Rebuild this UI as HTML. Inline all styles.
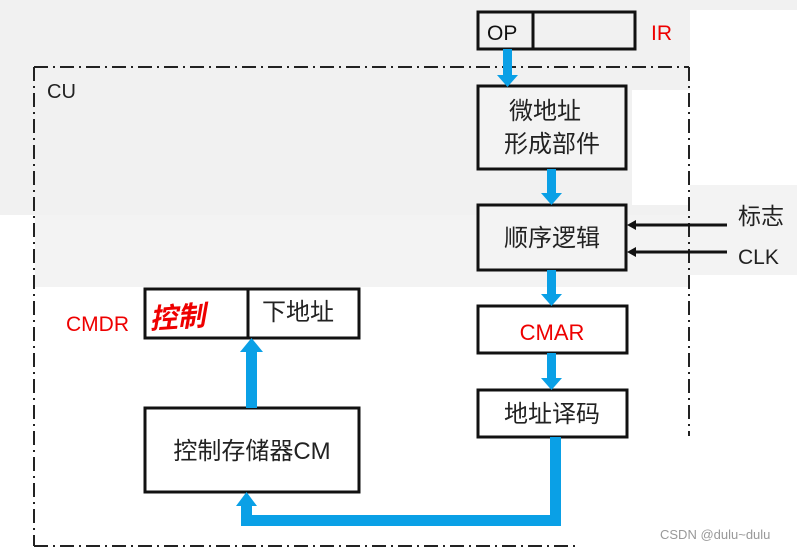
<!DOCTYPE html>
<html><head><meta charset="utf-8"><style>
html,body{margin:0;padding:0;background:#fff;}
svg{display:block;font-family:"Liberation Sans","Noto Sans CJK SC",sans-serif;}
</style></head><body>
<svg width="797" height="549" viewBox="0 0 797 549" xmlns="http://www.w3.org/2000/svg">
<rect x="0" y="0" width="797" height="549" fill="#fff"/>
<rect x="0" y="0" width="690" height="215" fill="#f1f1f1"/>
<rect x="35" y="215" width="655" height="72" fill="#f3f3f3"/>
<rect x="690" y="0" width="107" height="10" fill="#f1f1f1"/>
<rect x="690" y="185" width="107" height="90" fill="#f3f3f3"/>
<rect x="632" y="90" width="58" height="115" fill="#fff"/>
<g stroke="#222" stroke-width="2" fill="none" stroke-dasharray="14,5,2,5">
<line x1="34" y1="67" x2="689" y2="67"/>
<line x1="34" y1="67" x2="34" y2="546"/>
<line x1="689" y1="67" x2="689" y2="436"/>
<line x1="34" y1="546" x2="580" y2="546"/>
</g>
<text x="47" y="98" font-size="20" fill="#222">CU</text>
<rect x="478" y="12" width="157" height="37" fill="#f1f1f1" stroke="#111" stroke-width="3"/>
<line x1="533" y1="12" x2="533" y2="49" stroke="#111" stroke-width="3"/>
<text x="487" y="40" font-size="21" fill="#111">OP</text>
<text x="651" y="40" font-size="21" fill="#e00">IR</text>
<g fill="#fff" stroke="#111" stroke-width="3">
<rect x="478" y="86" width="148" height="83" fill="#f3f3f3"/>
<rect x="478" y="205" width="148" height="65" fill="#f3f3f3"/>
<rect x="478" y="306" width="149" height="47"/>
<rect x="478" y="390" width="149" height="47"/>
<rect x="145" y="289" width="214" height="49"/>
<rect x="145" y="408" width="214" height="84"/>
</g>
<line x1="248" y1="289" x2="248" y2="338" stroke="#111" stroke-width="3"/>
<g font-size="24" fill="#222" text-anchor="middle">
<text x="545" y="119">微地址</text>
<text x="552" y="152">形成部件</text>
<text x="552" y="246">顺序逻辑</text>
<text x="552" y="422">地址译码</text>
<text x="298" y="320">下地址</text>
<text x="252" y="459">控制存储器CM</text>
</g>
<text x="552" y="340" font-size="22" fill="#e00" text-anchor="middle">CMAR</text>
<text x="66" y="331" font-size="21" fill="#e00">CMDR</text>
<text x="150" y="329" font-size="28" fill="#e00" font-style="italic" font-weight="bold" transform="rotate(-4 150 328)">控制</text>
<text x="738" y="224" font-size="23" fill="#222">标志</text>
<text x="738" y="264" font-size="21" fill="#222">CLK</text>
<g stroke="#111" stroke-width="3">
<line x1="727" y1="225" x2="632" y2="225"/>
<line x1="727" y1="252" x2="632" y2="252"/>
</g>
<polygon points="627,225 636,220 636,230" fill="#111"/>
<polygon points="627,252 636,247 636,257" fill="#111"/>
<g fill="#0aa0e6">
<rect x="503" y="49" width="9" height="28"/><polygon points="497,75 518,75 507.5,87"/>
<rect x="547" y="169" width="9" height="26"/><polygon points="541,193 562,193 551.5,205"/>
<rect x="547" y="270" width="9" height="26"/><polygon points="541,294 562,294 551.5,306"/>
<rect x="547" y="353" width="9" height="27"/><polygon points="541,378 562,378 551.5,390"/>
<rect x="246" y="350" width="11" height="58"/><polygon points="240,352 263,352 251.5,338"/>
<rect x="550" y="437" width="11" height="89"/>
<rect x="241" y="515" width="320" height="11"/>
<rect x="241" y="505" width="11" height="21"/><polygon points="236,506 257,506 246.5,492"/>
</g>
<text x="660" y="539" font-size="13" fill="#999">CSDN @dulu~dulu</text>
</svg>
</body></html>
